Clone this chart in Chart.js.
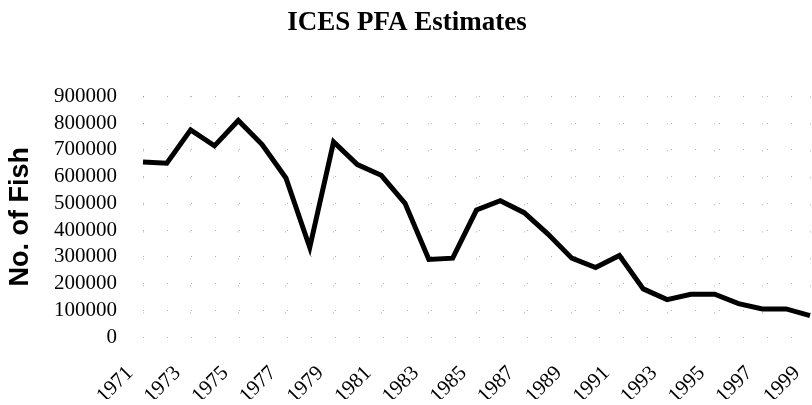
<!DOCTYPE html>
<html>
<head>
<meta charset="utf-8">
<script src="https://cdn.jsdelivr.net/npm/chart.js@4"></script>
<style>
  html, body { margin: 0; padding: 0; background: #fff; }
  #wrap { width: 812px; height: 405px; }
</style>
</head>
<body>
<div id="wrap"><canvas id="pfa" width="812" height="405"></canvas></div>
<script>
// years on the category axis
years = [1971, 1972, 1973, 1974, 1975, 1976, 1977, 1978, 1979, 1980,
         1981, 1982, 1983, 1984, 1985, 1986, 1987, 1988, 1989, 1990,
         1991, 1992, 1993, 1994, 1995, 1996, 1997, 1998, 1999];

// ICES PFA estimates, number of fish
pfa = [655000, 650000, 775000, 715000, 810000, 720000, 595000, 335000, 730000, 645000,
       605000, 500000, 290000, 295000, 475000, 510000, 465000, 385000, 295000, 260000,
       305000, 180000, 140000, 160000, 160000, 125000, 105000, 105000, 80000];

yTicks = [0, 100000, 200000, 300000, 400000, 500000, 600000, 700000, 800000, 900000];

titleText = 'ICES PFA Estimates';
yTitle = 'No. of Fish';

const serif = '"Liberation Serif", "Times New Roman", serif';
const sans = '"Liberation Sans", Arial, sans-serif';

const ctx = document.getElementById('pfa');

new Chart(ctx, {
  type: 'line',
  data: {
    labels: years.map(String),
    datasets: [{
      label: 'PFA',
      data: pfa,
      borderColor: '#000',
      borderWidth: 5,
      pointRadius: 0,
      tension: 0,
      fill: false
    }]
  },
  options: {
    responsive: false,
    animation: false,
    layout: { padding: { left: 4, right: 2, top: 0, bottom: 6 } },
    plugins: {
      legend: { display: false },
      tooltip: { enabled: false },
      title: {
        display: true,
        text: titleText,
        color: '#000',
        font: { family: serif, size: 27, weight: 'bold' },
        padding: { top: 7, bottom: 57 }
      }
    },
    scales: {
      x: {
        type: 'category',
        offset: false,
        border: { display: false, dash: [1, 26] },
        grid: {
          drawTicks: false,
          color: 'rgba(0,0,0,0.3)',
          lineWidth: 1
        },
        afterFit: function (axis) {
          axis.height = 62;
          axis.paddingLeft = 0;
          axis.paddingRight = 0;
        },
        ticks: {
          autoSkip: false,
          minRotation: 45,
          maxRotation: 45,
          padding: 24,
          labelOffset: -13,
          color: '#000',
          font: { family: serif, size: 21 },
          callback: function (v, i) {
            return (years[i] % 2 === 1) ? String(years[i]) : null;
          }
        }
      },
      y: {
        min: 0,
        max: 900000,
        border: { display: false, dash: [1, 23] },
        grid: {
          drawTicks: false,
          color: 'rgba(0,0,0,0.3)',
          lineWidth: 1
        },
        afterBuildTicks: function (axis) {
          axis.ticks = yTicks.map(function (v) { return { value: v }; });
        },
        afterFit: function (axis) {
          axis.width = 139;
        },
        ticks: {
          autoSkip: false,
          padding: 26,
          color: '#000',
          font: { family: serif, size: 21 },
          callback: function (v) { return String(v); }
        },
        title: {
          display: true,
          text: yTitle,
          color: '#000',
          font: { family: sans, size: 27, weight: 'bold' },
          padding: { top: 0, bottom: 0 }
        }
      }
    }
  }
});
</script>
</body>
</html>
